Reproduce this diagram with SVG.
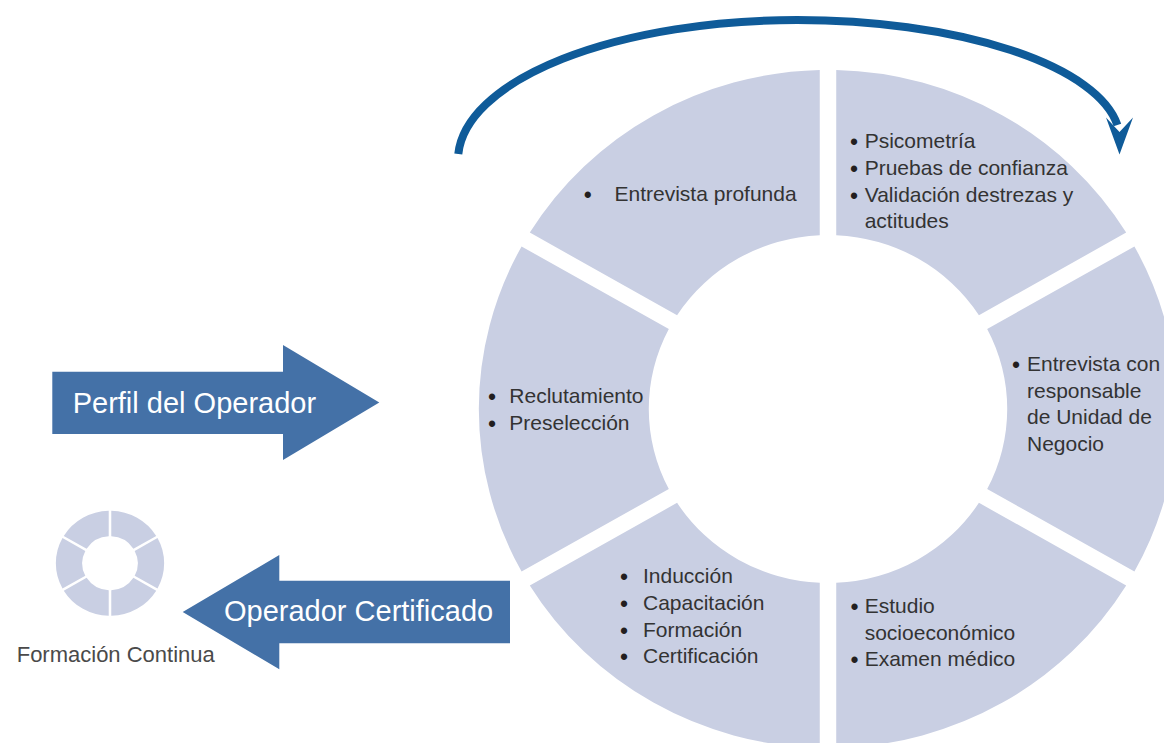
<svg xmlns="http://www.w3.org/2000/svg" width="1164" height="743" viewBox="0 0 1164 743">
<style>
.seg{fill:#C9CFE3}
.t{font-family:"Liberation Sans",Arial,sans-serif;font-size:21px;fill:#333333}
.b{font-size:23px;fill:#231F20}
.lbl{font-family:"Liberation Sans",Arial,sans-serif;font-size:29px;fill:#FFFFFF}
.cap{font-family:"Liberation Sans",Arial,sans-serif;font-size:22px;fill:#4A4A4A}
.blk{fill:#4471A7}
.flow{fill:none;stroke:#0F5B99;stroke-width:8}
.head{fill:#0F5B99}
</style>
<defs>
<path id="segshape" d="M 297.50 -162.53 A 339 339 0 0 1 297.50 162.53 L 154.53 79.98 A 174 174 0 0 0 154.53 -79.98 Z"/>
</defs>
<rect width="1164" height="743" fill="#FFFFFF"/>

<g id="seg-entrevista-profunda">
<use href="#segshape" class="seg" transform="translate(828 409) scale(1.03 1) rotate(-120)"/>
<text class="t" y="201"><tspan class="b" x="583.7" dy="2">•</tspan><tspan x="614.5" dy="-2">Entrevista profunda</tspan></text>
</g>

<g id="seg-psicometria">
<use href="#segshape" class="seg" transform="translate(828 409) scale(1.03 1) rotate(-60)"/>
<text class="t" y="148.3"><tspan class="b" x="850" dy="2">•</tspan><tspan x="864.7" dy="-2">Psicometría</tspan></text>
<text class="t" y="175"><tspan class="b" x="850" dy="2">•</tspan><tspan x="864.7" dy="-2">Pruebas de confianza</tspan></text>
<text class="t" y="201.5"><tspan class="b" x="850" dy="2">•</tspan><tspan x="864.7" dy="-2">Validación destrezas y</tspan></text>
<text class="t" x="864.7" y="228">actitudes</text>
</g>

<g id="seg-entrevista-responsable">
<use href="#segshape" class="seg" transform="translate(828 409) scale(1.03 1)"/>
<text class="t" y="371"><tspan class="b" x="1012" dy="2">•</tspan><tspan x="1027" dy="-2">Entrevista con</tspan></text>
<text class="t" x="1027" y="397.5">responsable</text>
<text class="t" x="1027" y="424">de Unidad de</text>
<text class="t" x="1027" y="450.5">Negocio</text>
</g>

<g id="seg-estudio">
<use href="#segshape" class="seg" transform="translate(828 409) scale(1.03 1) rotate(60)"/>
<text class="t" y="613.3"><tspan class="b" x="850.6" dy="2">•</tspan><tspan x="864.7" dy="-2">Estudio</tspan></text>
<text class="t" x="864.7" y="639.5">socioeconómico</text>
<text class="t" y="665.5"><tspan class="b" x="850.6" dy="2">•</tspan><tspan x="864.7" dy="-2">Examen médico</tspan></text>
</g>

<g id="seg-induccion">
<use href="#segshape" class="seg" transform="translate(828 409) scale(1.03 1) rotate(120)"/>
<text class="t" y="583.3"><tspan class="b" x="620" dy="2">•</tspan><tspan x="643" dy="-2">Inducción</tspan></text>
<text class="t" y="610"><tspan class="b" x="620" dy="2">•</tspan><tspan x="643" dy="-2">Capacitación</tspan></text>
<text class="t" y="636.5"><tspan class="b" x="620" dy="2">•</tspan><tspan x="643" dy="-2">Formación</tspan></text>
<text class="t" y="663"><tspan class="b" x="620" dy="2">•</tspan><tspan x="643" dy="-2">Certificación</tspan></text>
</g>

<g id="seg-reclutamiento">
<use href="#segshape" class="seg" transform="translate(828 409) scale(1.03 1) rotate(180)"/>
<text class="t" y="403.3"><tspan class="b" x="488" dy="2">•</tspan><tspan x="509.3" dy="-2">Reclutamiento</tspan></text>
<text class="t" y="430"><tspan class="b" x="488" dy="2">•</tspan><tspan x="509.3" dy="-2">Preselección</tspan></text>
</g>

<g id="perfil-operador">
<polygon class="blk" points="52.3,371.7 283,371.7 283,345 379.3,402.5 283,460 283,434 52.3,434"/>
<text class="lbl" x="72.7" y="413.3">Perfil del Operador</text>
</g>

<g id="operador-certificado">
<polygon class="blk" points="510,580.7 279.3,580.7 279.3,555 182.7,612 279.3,669.3 279.3,643.3 510,643.3"/>
<text class="lbl" x="224" y="620.7">Operador Certificado</text>
</g>

<g id="formacion-continua">
<use href="#segshape" class="seg" transform="translate(110 563.3) scale(0.1597 0.155)"/>
<use href="#segshape" class="seg" transform="translate(110 563.3) scale(0.1597 0.155) rotate(60)"/>
<use href="#segshape" class="seg" transform="translate(110 563.3) scale(0.1597 0.155) rotate(120)"/>
<use href="#segshape" class="seg" transform="translate(110 563.3) scale(0.1597 0.155) rotate(180)"/>
<use href="#segshape" class="seg" transform="translate(110 563.3) scale(0.1597 0.155) rotate(-120)"/>
<use href="#segshape" class="seg" transform="translate(110 563.3) scale(0.1597 0.155) rotate(-60)"/>
<text class="cap" x="16.7" y="661.7">Formación Continua</text>
</g>

<g id="connectors">
<path class="flow" d="M 458.3 154 A 339 140 0 0 1 797 20 A 323 120 0 0 1 1117.4 125"/>
<polygon class="head" points="1106,117.5 1119.5,132 1133,117.5 1119.5,154.5"/>
</g>
</svg>
